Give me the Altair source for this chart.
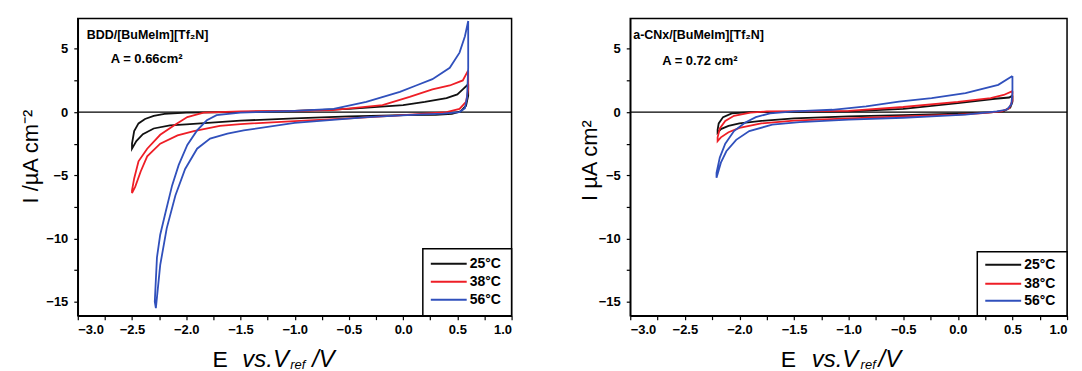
import altair as alt
import pandas as pd

temps = ["25°C", "38°C", "56°C"]
colors = ["#111111", "#ee1e26", "#3050bc"]

# ---- Left panel: BDD/[BuMeIm][Tf2N] (E in V, I in uA cm-2), loop order
L25_E = [0.60, 0.60, 0.58, 0.53, 0.45, 0.30, 0.00, -0.50, -1.00, -1.50, -1.80, -2.00, -2.15, -2.30, -2.40, -2.46, -2.50,
         -2.50, -2.48, -2.44, -2.38, -2.30, -2.20, -2.00, -1.50, -1.00, -0.50, 0.00, 0.20, 0.40, 0.50, 0.55, 0.60]
L25_I = [2.2, 1.3, 0.5, 0.05, -0.15, -0.22, -0.25, -0.35, -0.5, -0.68, -0.85, -0.98, -1.05, -1.3, -1.75, -2.3, -2.9,
         -2.5, -1.5, -0.9, -0.55, -0.3, -0.15, -0.05, 0.0, 0.1, 0.25, 0.55, 0.8, 1.1, 1.4, 1.8, 2.2]

L38_E = [0.60, 0.60, 0.58, 0.52, 0.40, 0.20, 0.00, -0.50, -1.00, -1.50, -1.69, -1.93, -2.08, -2.24, -2.36, -2.42, -2.47, -2.50,
         -2.50, -2.48, -2.44, -2.36, -2.24, -2.11, -1.99, -1.84, -1.50, -1.00, -0.65, -0.19, 0.06, 0.27, 0.43, 0.55, 0.60]
L38_I = [3.3, 1.8, 0.8, 0.25, 0.0, -0.12, -0.25, -0.5, -0.72, -0.95, -1.1, -1.5, -1.85, -2.5, -3.5, -4.7, -5.9, -6.4,
         -6.2, -5.25, -3.9, -2.9, -1.8, -1.05, -0.4, -0.05, 0.05, 0.1, 0.15, 0.55, 1.2, 1.8, 2.1, 2.5, 3.3]

L56_E = [0.60, 0.60, 0.59, 0.57, 0.52, 0.37, 0.13, -0.33, -1.00, -1.47, -1.62, -1.78, -1.90, -2.01, -2.10, -2.18, -2.24, -2.28,
         -2.29, -2.27, -2.24, -2.19, -2.13, -2.07, -1.99, -1.90, -1.81, -1.72, -1.50, -1.00, -0.64, -0.34, -0.03, 0.12, 0.27, 0.43, 0.52, 0.57, 0.60]
L56_I = [7.2, 3.5, 1.2, 0.3, 0.0, -0.13, -0.2, -0.4, -0.85, -1.45, -1.7, -2.1, -2.9, -4.5, -6.6, -9.2, -12.1, -15.5,
         -15.0, -11.5, -9.7, -7.9, -5.8, -4.2, -2.6, -1.45, -0.65, -0.25, -0.05, 0.1, 0.25, 0.8, 1.6, 2.1, 2.6, 3.5, 4.7, 6.0, 7.2]

# ---- Right panel: a-CNx/[BuMeIm][Tf2N]
R25_E = [0.50, 0.50, 0.48, 0.42, 0.30, 0.00, -0.50, -1.00, -1.50, -1.80, -2.00, -2.10, -2.17, -2.20,
         -2.20, -2.19, -2.15, -2.07, -1.90, -1.50, -1.00, -0.50, 0.00, 0.34, 0.47, 0.50]
R25_I = [1.3, 0.8, 0.35, 0.08, -0.02, -0.12, -0.25, -0.35, -0.5, -0.7, -0.9, -1.1, -1.35, -1.65,
         -1.4, -0.9, -0.4, -0.1, 0.0, 0.02, 0.05, 0.25, 0.7, 1.05, 1.15, 1.3]

R38_E = [0.50, 0.50, 0.47, 0.40, 0.20, 0.00, -0.50, -1.00, -1.50, -1.80, -2.00, -2.10, -2.17, -2.20,
         -2.20, -2.18, -2.13, -2.05, -1.90, -1.75, -1.00, -0.50, 0.00, 0.30, 0.42, 0.50]
R38_I = [1.65, 0.9, 0.3, 0.05, -0.1, -0.2, -0.35, -0.5, -0.68, -0.9, -1.25, -1.6, -2.0, -2.3,
         -2.0, -1.3, -0.7, -0.3, -0.05, 0.05, 0.1, 0.4, 0.8, 1.1, 1.35, 1.65]

R56_E = [0.50, 0.50, 0.49, 0.45, 0.36, 0.07, -0.24, -0.50, -1.00, -1.45, -1.70, -1.91, -2.03, -2.12, -2.17, -2.21,
         -2.21, -2.18, -2.13, -2.05, -1.95, -1.85, -1.72, -1.50, -1.15, -0.84, -0.54, -0.24, 0.07, 0.37, 0.50]
R56_I = [2.85, 1.5, 0.6, 0.2, 0.05, -0.2, -0.35, -0.45, -0.6, -0.8, -1.0, -1.5, -2.2, -3.1, -4.0, -5.2,
         -4.8, -3.6, -2.5, -1.5, -0.85, -0.4, -0.1, 0.05, 0.18, 0.45, 0.83, 1.1, 1.5, 2.15, 2.85]

x_ticks = [-3.0 + 0.25 * k for k in range(17)]
y_ticks = [-15.0, -12.5, -10.0, -7.5, -5.0, -2.5, 0.0, 2.5, 5.0]

FONT = "Liberation Sans"
W_L, W_R, H = 435, 438, 298
X_DOM = [-3.0, 1.0]
Y_DOM = [-16.1, 7.4]


def make_df(Es, Is):
    rows = []
    for t, E, I in zip(temps, Es, Is):
        for k, (e, i) in enumerate(zip(E, I)):
            rows.append({"T": t, "E": e, "I": i, "k": k})
    return pd.DataFrame(rows)


def txt(s, x, y, size, weight="normal", style="normal", align="left", baseline="middle"):
    return alt.Chart(pd.DataFrame({"t": [s]})).mark_text(
        align=align, baseline=baseline, font=FONT, fontSize=size, fontWeight=weight,
        fontStyle=style, color="black"
    ).encode(text="t:N", x=alt.value(x), y=alt.value(y))


def panel(Es, Is, width, ytitle, ytitle_x, ytitle_y, note1, note2, n1pos, n2pos, xt, leg):
    df = make_df(Es, Is)
    xs = alt.Scale(domain=X_DOM, nice=False, zero=False)
    ys = alt.Scale(domain=Y_DOM, nice=False, zero=False)
    xaxis = alt.Axis(values=x_ticks, title=None,
                     labelExpr="abs(datum.value*2 - round(datum.value*2)) < 0.01 ? format(datum.value, '.1f') : ''")
    yaxis = alt.Axis(values=y_ticks, title=ytitle, titleX=ytitle_x, titleY=ytitle_y,
                     titleBaseline="alphabetic", titleAngle=270,
                     labelExpr="abs(datum.value/5 - round(datum.value/5)) < 0.01 ? format(datum.value, 'd') : ''")
    zero = alt.Chart(pd.DataFrame({"I": [0.0]})).mark_rule(color="black", strokeWidth=1.3).encode(
        y=alt.Y("I:Q", scale=ys, axis=yaxis))
    lines = alt.Chart(df).mark_line(strokeWidth=1.8).encode(
        x=alt.X("E:Q", scale=xs, axis=xaxis),
        y=alt.Y("I:Q", scale=ys, axis=yaxis),
        color=alt.Color("T:N", scale=alt.Scale(domain=temps, range=colors), legend=None),
        order="k:Q",
    )
    layers = [zero, lines,
              txt(note1, n1pos[0], n1pos[1], 12.5, weight="bold"),
              txt(note2, n2pos[0], n2pos[1], 13, weight="bold")]
    # x-axis title pieces: "E  vs.V_ref /V"
    layers += [txt("E", xt[0], 350, 23, baseline="alphabetic"),
               txt("vs.V", xt[1], 350, 24, style="italic", baseline="alphabetic"),
               txt("ref", xt[2], 352, 13, style="italic", baseline="alphabetic"),
               txt("/V", xt[3], 350, 24, style="italic", baseline="alphabetic")]
    # legend box (inside, bottom-right)
    bx0, by0, rows, lx0, lx1, tx = leg
    box = alt.Chart(pd.DataFrame({"a": [0]})).mark_rect(
        fill="white", stroke="black", strokeWidth=1.5
    ).encode(x=alt.value(bx0), x2=alt.value(width), y=alt.value(by0), y2=alt.value(H))
    layers.append(box)
    for t, c, ry in zip(temps, colors, rows):
        layers.append(alt.Chart(pd.DataFrame({"a": [0]})).mark_rule(color=c, strokeWidth=2).encode(
            x=alt.value(lx0), x2=alt.value(lx1), y=alt.value(ry)))
        layers.append(txt(t, tx, ry, 14, weight="bold"))
    return alt.layer(*layers).properties(width=width, height=H)


left = panel([L25_E, L38_E, L56_E], [L25_I, L38_I, L56_I], W_L,
             "I  /µA cm⁻²", -40, 138,
             "BDD/[BuMeIm][Tf₂N]", "A = 0.66cm²", (9, 17), (33, 41),
             (135, 165, 213, 235),
             (346, 231, [246, 264, 282], 354, 390, 393))
right = panel([R25_E, R38_E, R56_E], [R25_I, R38_I, R56_I], W_R,
              "I  µA cm²", -34, 142,
              "a-CNx/[BuMeIm][Tf₂N]", "A = 0.72 cm²", (3, 17), (32, 43),
              (151, 182, 231, 249),
              (348, 234, [247, 266, 283], 356, 392, 395))

chart = alt.HConcatChart(hconcat=[left, right], spacing=119, bounds="flush").properties(
    padding={"left": 19, "top": 16, "right": 13, "bottom": 0},
    background="white",
).configure_view(
    stroke="black", strokeWidth=1.5
).configure_axis(
    grid=False, domainColor="black", domainWidth=1.5, tickColor="black", tickWidth=1.2, tickSize=4,
    labelColor="black", labelFont=FONT, labelFontSize=13, labelFontWeight="bold",
    titleFont=FONT, titleFontSize=22, titleFontWeight="normal", titleColor="black",
    labelPadding=4,
).configure_axisY(
    labelPadding=6
)

chart.save("out.html", embed_options={"renderer": "svg", "actions": False})
